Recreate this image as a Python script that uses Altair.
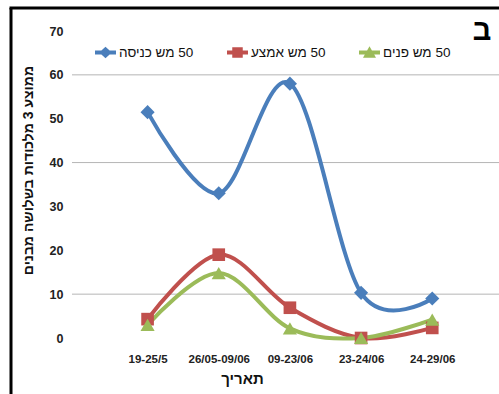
import altair as alt
import pandas as pd

# Sampling periods (x categories)
periods = ["19-25/5", "26/05-09/06", "09-23/06", "23-24/06", "24-29/06"]

# Series names (RLM prefix keeps the Hebrew labels reading right-to-left)
series_names = ["50 מש כניסה", "50 מש אמצע", "50 מש פנים"]
series_labels = ["\u200f" + s for s in series_names]

# Average catch of 3 traps per period
entrance = [51.5, 33.0, 58.0, 10.3, 9.0]
middle = [4.3, 19.0, 6.9, 0.0, 2.3]
inner = [3.0, 14.8, 2.2, 0.0, 4.2]

grid_values = [10, 40, 60]
y_ticks = [0, 10, 20, 30, 40, 50, 60, 70]

colors = ["#4A7EBB", "#C0504D", "#9BBB59"]
marker_shapes = ["diamond", "square", "triangle-up"]
marker_sizes = [200, 160, 200]

# Legend symbols: a short line segment with the marker on top
bar = "M-1,-0.2L1,-0.2L1,0.2L-1,0.2Z"
legend_shapes = [
    bar + " M0,-0.55L0.6,0L0,0.55L-0.6,0Z",
    bar + " M-0.5,-0.5L0.5,-0.5L0.5,0.5L-0.5,0.5Z",
    bar + " M0,-0.6L0.62,0.5L-0.62,0.5Z",
]

rows = []
for label, vals in zip(series_labels, [entrance, middle, inner]):
    for p, v in zip(periods, vals):
        rows.append({"period": p, "series": label, "value": v})
df = pd.DataFrame(rows)

FONT = "Liberation Sans"

x_enc = alt.X(
    "period:N",
    sort=periods,
    scale=alt.Scale(type="point", padding=1.013, align=0.531),
    axis=alt.Axis(
        title="תאריך",
        labelAngle=0,
        labelFont=FONT,
        labelFontSize=11.5,
        labelFontWeight="bold",
        labelColor="#222222",
        labelPadding=15,
        ticks=False,
        domain=False,
        grid=False,
        titleFont=FONT,
        titleFontSize=15,
        titleFontWeight="bold",
        titleColor="#111111",
        titleX=170,
        titleY=40,
        titleBaseline="middle",
        titleAlign="center",
    ),
)

y_scale = alt.Scale(domain=[0, 70], nice=False, zero=True)
y_enc = alt.Y(
    "value:Q",
    scale=y_scale,
    axis=alt.Axis(
        title="ממוצע 3 מלכודות בשלושה מבנים",
        values=y_ticks,
        labelFont=FONT,
        labelFontSize=12.5,
        labelFontWeight="bold",
        labelColor="#222222",
        labelPadding=9,
        ticks=False,
        domain=False,
        grid=False,
        titleFont=FONT,
        titleFontSize=14,
        titleFontWeight="bold",
        titleColor="#111111",
        titleAngle=270,
        titleX=-44,
        titleY=139,
        titleBaseline="middle",
        titleAlign="center",
    ),
)

color_scale = alt.Scale(domain=series_labels, range=colors)

# Horizontal gridlines
grid = alt.Chart(pd.DataFrame({"value": grid_values})).mark_rule(
    color="#b5b5b5", strokeWidth=1
).encode(y=y_enc)

base = alt.Chart(df).encode(x=x_enc, y=y_enc)

lines = base.mark_line(interpolate="cardinal", tension=0, strokeWidth=4).encode(
    color=alt.Color("series:N", sort=series_labels, scale=color_scale, legend=None)
)

# One marker layer per series, each with its own shape
marker_layers = [
    base.transform_filter(alt.datum.series == label).mark_point(
        shape=shp, size=sz, filled=True, opacity=1, color=col
    )
    for label, shp, sz, col in zip(series_labels, marker_shapes, marker_sizes, colors)
]

legend_props = dict(
    title=None,
    orient="none",
    legendX=23,
    legendY=11,
    direction="horizontal",
    symbolSize=441,
    symbolOpacity=1,
    symbolStrokeWidth=0,
    labelFont=FONT,
    labelFontSize=13.5,
    labelColor="#111111",
    labelOffset=3,
    columnPadding=33,
    padding=0,
)

# Invisible points that only carry the legend
legend_layer = base.mark_point(filled=True, opacity=0).encode(
    shape=alt.Shape(
        "series:N",
        sort=series_labels,
        scale=alt.Scale(domain=series_labels, range=legend_shapes),
        legend=alt.Legend(**legend_props),
    ),
    color=alt.Color(
        "series:N",
        sort=series_labels,
        scale=color_scale,
        legend=alt.Legend(**legend_props),
    ),
)

one = pd.DataFrame({"k": [0]})

# Panel letter in the top-right corner
panel_letter = alt.Chart(pd.DataFrame({"t": ["ב"]})).mark_text(
    font=FONT, fontSize=29, fontWeight="bold", color="#000000", align="center", baseline="alphabetic"
).encode(text="t:N", x=alt.value(410), y=alt.value(9))

# Outer frame (left and top edges)
frame_left = alt.Chart(one).mark_rule(color="#000000", strokeWidth=3).encode(
    x=alt.value(-61), y=alt.value(-23), y2=alt.value(370)
)
frame_top = alt.Chart(one).mark_rule(color="#000000", strokeWidth=3).encode(
    x=alt.value(-62.5), x2=alt.value(440), y=alt.value(-23)
)

chart = (
    alt.layer(grid, lines, *marker_layers, legend_layer, panel_letter, frame_left, frame_top)
    .resolve_scale(color="independent", shape="independent")
    .properties(
        width=427,
        height=307,
        autosize=alt.AutoSizeParams(type="none"),
        padding={"left": 72, "top": 31, "right": 0, "bottom": 56},
        background="white",
    )
    .configure_view(stroke=None)
)

chart.save("out.html", embed_options={"renderer": "svg", "actions": False})
